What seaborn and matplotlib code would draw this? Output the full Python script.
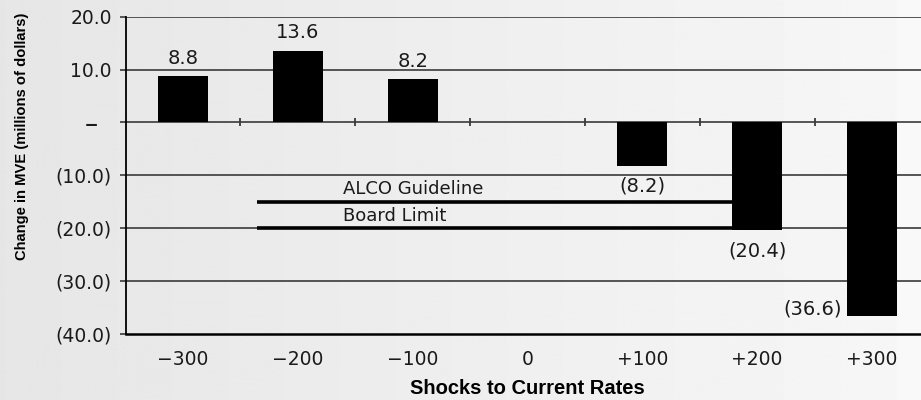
import numpy as np
import pandas as pd
import matplotlib
matplotlib.use("Agg")
import matplotlib.pyplot as plt
import seaborn as sns

# Rate shocks (basis points) and the resulting change in market value of equity
shocks = ["\u2212300", "\u2212200", "\u2212100", "0", "+100", "+200", "+300"]
mve_change = [8.8, 13.6, 8.2, 0.0, -8.2, -20.4, -36.6]
value_labels = ["8.8", "13.6", "8.2", "", "(8.2)", "(20.4)", "(36.6)"]

# Policy limits drawn as horizontal reference lines
limit_names = ["ALCO Guideline", "Board Limit"]
limit_values = [-15.0, -20.0]

y_ticks = [20, 10, 0, -10, -20, -30, -40]
y_tick_labels = ["20.0", "10.0", "\u2013", "(10.0)", "(20.0)", "(30.0)", "(40.0)"]

sns.set_theme(style="white")
plt.rcParams["font.family"] = ["DejaVu Sans"]

TXT = "#1a1a1a"
W, H = 921, 400
fig = plt.figure(figsize=(W / 100, H / 100), dpi=100)

# soft horizontal gradient behind everything
bg = fig.add_axes([0, 0, 1, 1], zorder=-10)
cols = np.arange(W, dtype=float)
ramp = np.clip(cols / 897.0, 0, 1)
shade = 0.902 + (0.965 - 0.902) * ramp
shade[897:] = 0.973
img = np.repeat(shade[None, :], 2, axis=0)
bg.imshow(img, cmap="gray", vmin=0, vmax=1, aspect="auto", extent=[0, 1, 0, 1])
bg.set_axis_off()

ax_w_px, ax_h_px = 803.8, 317.0
ax = fig.add_axes([125.6 / W, 66.3 / H, ax_w_px / W, ax_h_px / H])
ax.patch.set_alpha(0)

df = pd.DataFrame({"shock": shocks, "change": mve_change})
sns.barplot(data=df, x="shock", y="change", order=shocks, color="black",
            width=0.435, saturation=1, ax=ax, zorder=3, edgecolor="none")

ax.set_ylim(-40, 20)
ax.set_xlim(-0.5, len(shocks) - 0.5)

# horizontal gridlines
for yv in y_ticks[:-1]:
    ax.axhline(yv, color="#3a3a3a", lw=1.2, zorder=1)

# separators between categories on the zero line
for b in np.arange(0.5, len(shocks) - 0.5, 1.0):
    ax.plot([b], [0], marker="|", color="#3a3a3a", markersize=6,
            markeredgewidth=1.3, zorder=2)

# limit lines with their names
line_start, line_end = 0.645, 5.05
for name, val in zip(limit_names, limit_values):
    ax.plot([line_start, line_end], [val, val], color="black", lw=2.6,
            solid_capstyle="butt", zorder=2)
    ax.annotate(name, xy=(1.39, val), xytext=(0, 2.5), textcoords="offset points",
                ha="left", va="bottom", fontsize=13, color=TXT)

# value labels
for i, (v, lab) in enumerate(zip(mve_change, value_labels)):
    if not lab:
        continue
    if v > 0:
        ax.annotate(lab, xy=(i, v), xytext=(0, 6), textcoords="offset points",
                    ha="center", va="bottom", fontsize=14, color=TXT)
    elif i == len(shocks) - 1:
        ax.annotate(lab, xy=(i - 0.435 / 2, v), xytext=(-4, 5),
                    textcoords="offset points", ha="right", va="center",
                    fontsize=14, color=TXT)
    else:
        ax.annotate(lab, xy=(i, v), xytext=(0, -8), textcoords="offset points",
                    ha="center", va="top", fontsize=14, color=TXT)

ax.set_yticks(y_ticks)
ax.set_yticklabels(y_tick_labels, fontsize=13.5, color=TXT)
ax.set_xticks(range(len(shocks)))
ax.set_xticklabels(shocks, fontsize=13.5, color=TXT)
ax.tick_params(axis="y", length=4, width=1.2, color="#3a3a3a", pad=6, left=True)
ax.tick_params(axis="x", length=0, pad=12)

# the dash for zero sits a little left of the other labels and reads wider
for t in ax.get_yticklabels():
    if t.get_text() == "\u2013":
        t.set_fontsize(19)
        t.set_transform(t.get_transform() + matplotlib.transforms.ScaledTranslation(
            -14 / 100, 0, fig.dpi_scale_trans))

ax.set_ylabel("Change in MVE (millions of dollars)", fontsize=10.6,
              fontweight="bold", color="black",
              family=["Liberation Sans", "DejaVu Sans"])
ax.set_xlabel("Shocks to Current Rates", fontsize=14.5, fontweight="bold",
              color="black", family=["Liberation Sans", "DejaVu Sans"])
ax.yaxis.set_label_coords((22.0 - 125.6) / ax_w_px, (333.7 - 136.0) / ax_h_px)
ax.xaxis.set_label_coords(0.5, (333.7 - 389.0) / ax_h_px)
ax.xaxis.label.set_va("center")
ax.yaxis.label.set_va("center")

for side in ["top", "right"]:
    ax.spines[side].set_visible(False)
ax.spines["left"].set_color("black")
ax.spines["left"].set_linewidth(1.3)
ax.spines["bottom"].set_color("black")
ax.spines["bottom"].set_linewidth(1.8)

fig.savefig("out.png", dpi=100)
